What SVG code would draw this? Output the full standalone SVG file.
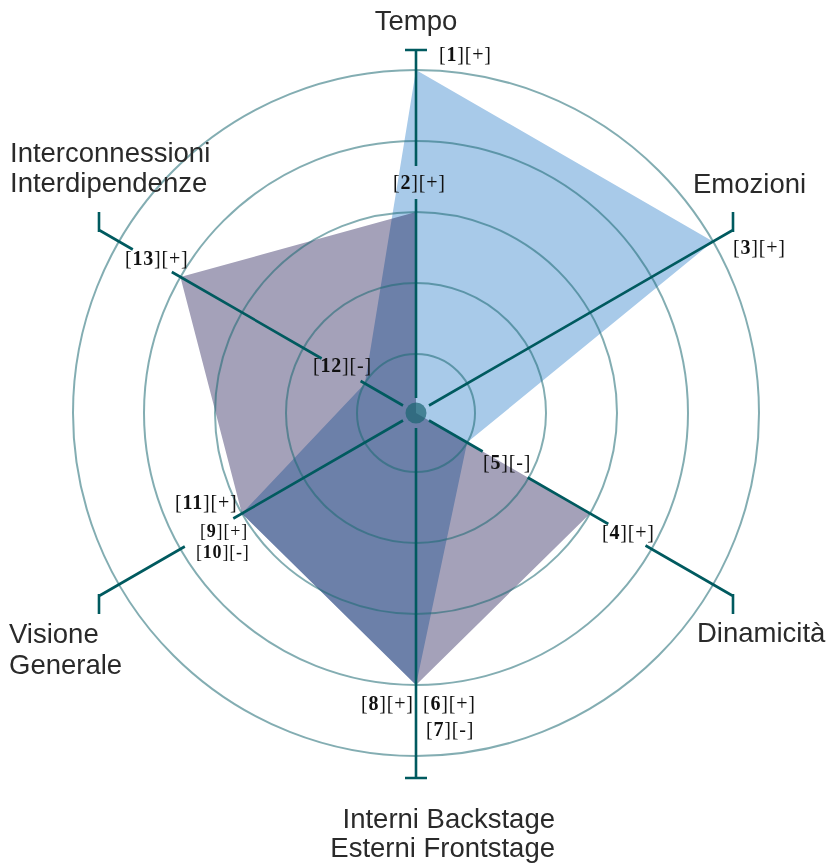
<svg xmlns="http://www.w3.org/2000/svg" width="832" height="864" viewBox="0 0 832 864">
<style>
.grid{fill:none;stroke:#1e6a72;stroke-opacity:0.55;stroke-width:2}
.ax{stroke:#005a5f;stroke-width:2.6;fill:none;stroke-linecap:butt}
.cat{font-family:"Liberation Sans",Arial,sans-serif;font-size:27.5px;fill:#2a2a2a}
.dl{font-family:"Liberation Serif","Times New Roman",serif;font-size:20px;fill:#111;letter-spacing:0.8px}
.sm{font-size:18px}
.dl tspan.n{font-weight:bold}
</style>
<rect width="832" height="864" fill="#ffffff"/>
<g id="polygons">
<polygon id="series-a" points="416,70 713,241.5 467.1,442.5 416,685 241.9,513.5 364.9,383.5" fill="#a8cae9"/>
<polygon id="series-b" points="416,212 416,413 590.1,513.5 416,685 241.9,513.5 180.4,277" fill="#a4a1b9" style="mix-blend-mode:multiply"/>
</g>
<g id="grid">
<circle class="grid" cx="416" cy="413" r="59"/>
<circle class="grid" cx="416" cy="413" r="130"/>
<circle class="grid" cx="416" cy="413" r="201"/>
<circle class="grid" cx="416" cy="413" r="272"/>
<circle class="grid" cx="416" cy="413" r="343"/>
</g>
<g id="connectors">
<path class="ax" d="M416,398V199M416,166V50M405,50H427"/>
<path class="ax" d="M416,428V778M405,778H427"/>
<path class="ax" d="M429,405.5L733,230M733,212V232"/>
<path class="ax" d="M429,420.5L482.7,451.5M527.7,477.5L608.3,524M645.5,545.5L733,596M733,594V614"/>
<path class="ax" d="M403,420.5L233.3,518.5M184.8,546.5L99,596M99,594V614"/>
<path class="ax" d="M403,405.5L360.6,381M321.6,358.5L171.8,272M132.8,249.5L99,230M99,212V232"/>
</g>
<circle id="center" cx="416" cy="413" r="10.5" fill="#1a6470" fill-opacity="0.7"/>
<g id="axis-labels">
<g id="tempo"><text class="cat" x="416" y="30" text-anchor="middle">Tempo</text></g>
<g id="emozioni"><text class="cat" x="693" y="193">Emozioni</text></g>
<g id="dinamicita"><text class="cat" x="697" y="642">Dinamicità</text></g>
<g id="interni"><text class="cat" x="555" y="828" text-anchor="end">Interni Backstage</text><text class="cat" x="555" y="857" text-anchor="end">Esterni Frontstage</text></g>
<g id="visione"><text class="cat" x="9" y="643">Visione</text><text class="cat" x="9" y="674">Generale</text></g>
<g id="interconnessioni"><text class="cat" x="10" y="162">Interconnessioni</text><text class="cat" x="10" y="192">Interdipendenze</text></g>
</g>
<g id="data-labels">
<text class="dl" x="439" y="61">[<tspan class="n">1</tspan>][+]</text>
<text class="dl" x="393" y="189">[<tspan class="n">2</tspan>][+]</text>
<text class="dl" x="733" y="254">[<tspan class="n">3</tspan>][+]</text>
<text class="dl" x="602" y="539">[<tspan class="n">4</tspan>][+]</text>
<text class="dl" x="483" y="469">[<tspan class="n">5</tspan>][-]</text>
<text class="dl" x="423" y="710">[<tspan class="n">6</tspan>][+]</text>
<text class="dl" x="426" y="736">[<tspan class="n">7</tspan>][-]</text>
<text class="dl" x="361" y="710">[<tspan class="n">8</tspan>][+]</text>
<text class="dl sm" x="200" y="537">[<tspan class="n">9</tspan>][+]</text>
<text class="dl sm" x="196" y="558">[<tspan class="n">10</tspan>][-]</text>
<text class="dl" x="175" y="509">[<tspan class="n">11</tspan>][+]</text>
<text class="dl" x="313" y="372">[<tspan class="n">12</tspan>][-]</text>
<text class="dl" x="125" y="265">[<tspan class="n">13</tspan>][+]</text>
</g>
</svg>
